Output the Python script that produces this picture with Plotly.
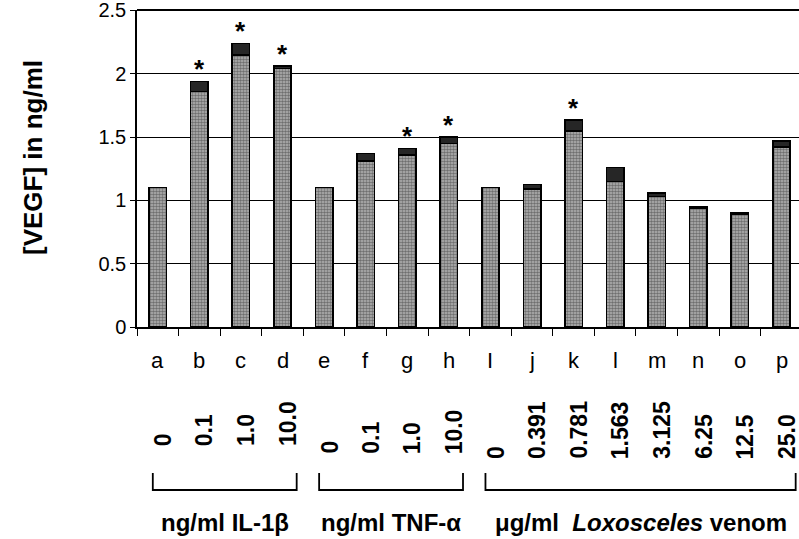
import plotly.graph_objects as go

# ---- data ----
categories = ["a", "b", "c", "d", "e", "f", "g", "h", "I", "j", "k", "l", "m", "n", "o", "p"]
vegf_mean = [1.10, 1.86, 2.15, 2.04, 1.10, 1.31, 1.36, 1.45, 1.10, 1.09, 1.55, 1.15, 1.03, 0.94, 0.89, 1.42]
vegf_error = [0.0, 0.08, 0.09, 0.02, 0.0, 0.06, 0.05, 0.05, 0.0, 0.035, 0.085, 0.11, 0.03, 0.01, 0.01, 0.05]
significant = [False, True, True, True, False, False, True, True, False, False, True, False, False, False, False, False]
concentrations = ["0", "0.1", "1.0", "10.0", "0", "0.1", "1.0", "10.0",
                  "0", "0.391", "0.781", "1.563", "3.125", "6.25", "12.5", "25.0"]
group_labels = ["ng/ml IL-1β", "ng/ml TNF-α", "μg/ml&nbsp;&nbsp;<i>Loxosceles</i> venom"]
group_members = [[0, 1, 2, 3], [4, 5, 6, 7], [8, 9, 10, 11, 12, 13, 14, 15]]
y_ticks = [0, 0.5, 1, 1.5, 2, 2.5]
y_tick_text = ["0", "0.5", "1", "1.5", "2", "2.5"]

# ---- layout helpers ----
W, H = 799, 539
TOP, BOTTOM = 10, 327
LEFT = 137
FONT = "Arial, Liberation Sans, sans-serif"


def py(px):
    return (BOTTOM - px) / (BOTTOM - TOP)


fig = go.Figure()
fig.add_trace(go.Bar(
    x=categories, y=vegf_mean, width=0.42,
    marker=dict(color="#b4b4b4", line=dict(color="black", width=1.6),
                pattern=dict(shape=".", fgcolor="#2a2a2a", size=3, solidity=0.55)),
    showlegend=False, hoverinfo="skip"))
fig.add_trace(go.Bar(
    x=categories, y=vegf_error, width=0.42,
    marker=dict(color="#262626", line=dict(color="black", width=1.6)),
    showlegend=False, hoverinfo="skip"))

annotations = []
# significance asterisks
for c, m, e, s in zip(categories, vegf_mean, vegf_error, significant):
    if s:
        annotations.append(dict(x=c, y=m + e, xref="x", yref="y", text="<b>*</b>", showarrow=False,
                                yanchor="middle", yshift=12,
                                font=dict(family=FONT, size=26, color="black")))
# category letters
for c in categories:
    annotations.append(dict(x=c, y=py(360), xref="x", yref="paper", text=c, showarrow=False,
                            yanchor="middle", font=dict(family=FONT, size=22, color="black")))
# rotated concentrations
group_bottom = [448, 456, 461]
for g, members in enumerate(group_members):
    for i in members:
        annotations.append(dict(x=categories[i], y=py(group_bottom[g]), xref="x", yref="paper",
                                text="<b>%s</b>" % concentrations[i], showarrow=False,
                                textangle=-90, yanchor="bottom", xanchor="center", xshift=5,
                                font=dict(family=FONT, size=23, color="black")))

shapes = []
for g, members in enumerate(group_members):
    x0 = members[0] - 0.12
    x1 = members[-1] + 0.34
    shapes.append(dict(type="path", xref="x", yref="paper",
                       path="M %f,%f L %f,%f L %f,%f L %f,%f" % (x0, py(473), x0, py(490), x1, py(490), x1, py(473)),
                       line=dict(color="black", width=1.8)))
    annotations.append(dict(x=(x0 + x1) / 2, y=py(522), xref="x", yref="paper",
                            text="<b>%s</b>" % group_labels[g], showarrow=False,
                            yanchor="middle", xanchor="center",
                            font=dict(family=FONT, size=24, color="black")))

# y-axis title
annotations.append(dict(x=(33 - LEFT) / (W - LEFT), y=py(158), xref="paper", yref="paper",
                        text="<b>[VEGF] in ng/ml</b>",
                        showarrow=False, textangle=-90, xanchor="center", yanchor="middle",
                        font=dict(family=FONT, size=26, color="black")))

fig.update_layout(
    width=W, height=H, barmode="stack",
    margin=dict(l=LEFT, r=0, t=TOP, b=H - BOTTOM, pad=0),
    paper_bgcolor="white", plot_bgcolor="white",
    annotations=annotations, shapes=shapes,
    xaxis=dict(type="category", range=[-0.5, 15.42], showticklabels=False,
               showline=True, linecolor="black", linewidth=2, mirror=False,
               ticks="outside", tickson="boundaries", ticklen=7, tickcolor="black", tickwidth=1,
               showgrid=False, zeroline=False),
    yaxis=dict(range=[0, 2.503], tickvals=y_ticks, ticktext=y_tick_text,
               showline=True, linecolor="black", linewidth=1.5,
               ticks="outside", ticklen=5, tickcolor="black", ticklabeloverflow="allow",
               showgrid=True, gridcolor="black", gridwidth=1, zeroline=False,
               tickfont=dict(family=FONT, size=20, color="black")),
)
fig.add_shape(type="line", xref="paper", yref="paper", x0=0, x1=1, y0=1, y1=1,
              line=dict(color="black", width=2))

fig.write_html("out.html", config={"displayModeBar": False},
               post_script="document.body.style.margin='0';document.body.style.overflow='hidden';")
